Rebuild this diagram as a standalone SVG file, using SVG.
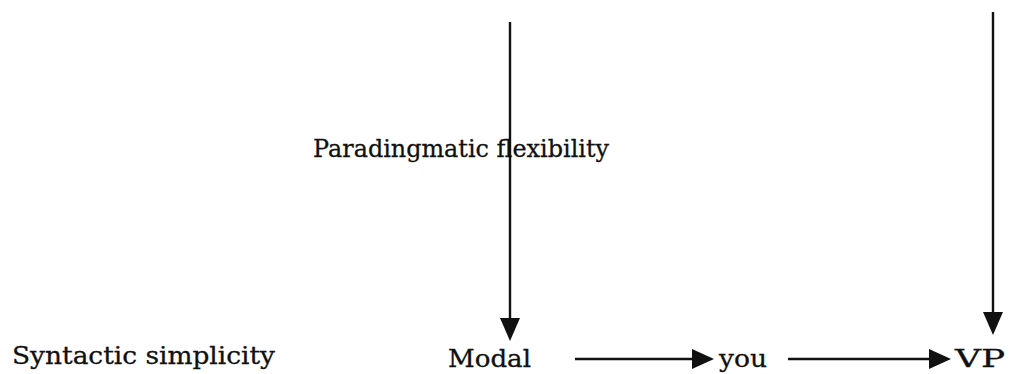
<svg xmlns="http://www.w3.org/2000/svg" width="1009" height="374" viewBox="0 0 1009 374">
<style>
text{font-family:"DejaVu Serif","Liberation Serif",serif;font-size:24px;fill:#111;stroke:#111;stroke-width:0.3}
.c line{stroke:#111;stroke-width:2.4}
.c path{fill:#111}
</style>
<rect width="1009" height="374" fill="#fff"/>
<g id="paradigm"><text x="313" y="157" textLength="296" lengthAdjust="spacingAndGlyphs">Paradingmatic flexibility</text></g>
<g id="syntactic"><text x="12" y="364" textLength="263" lengthAdjust="spacingAndGlyphs">Syntactic simplicity</text></g>
<g id="modal"><text x="448" y="367" textLength="83" lengthAdjust="spacingAndGlyphs">Modal</text></g>
<g id="you"><text x="719" y="367" textLength="48" lengthAdjust="spacingAndGlyphs">you</text></g>
<g id="vp"><text x="955" y="367" textLength="50" lengthAdjust="spacingAndGlyphs">VP</text></g>
<g class="c" id="connectors">
<line x1="510" y1="22" x2="510" y2="320"/>
<path d="M500,318L520,318L510,341z"/>
<line x1="993" y1="12" x2="993" y2="314"/>
<path d="M983,312L1003,312L993,335z"/>
<line x1="575" y1="359" x2="695" y2="359"/>
<path d="M692,349L714,359L692,369z"/>
<line x1="788" y1="359" x2="932" y2="359"/>
<path d="M929,349L951,359L929,369z"/>
</g>
</svg>
